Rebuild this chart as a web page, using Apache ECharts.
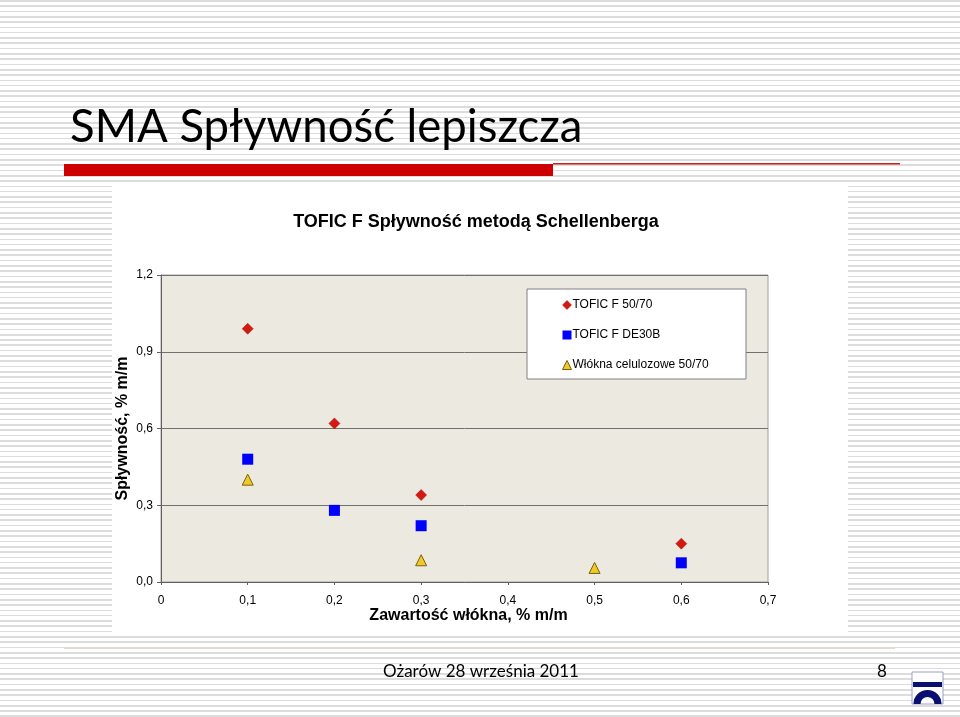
<!DOCTYPE html>
<html><head><meta charset="utf-8">
<script src="https://cdn.jsdelivr.net/npm/echarts@6/dist/echarts.min.js"></script>
<style>
html,body{margin:0;padding:0;width:960px;height:717px;overflow:hidden;
background:repeating-linear-gradient(to bottom,#dcdcdc 0px,#dcdcdc 1.6px,#ffffff 1.6px,#ffffff 5.3px);}
#c{width:960px;height:717px;}
</style></head><body><div id="c"></div>
<script>
const slideTitle = 'SMA Spływność lepiszcza';
const chartTitle = 'TOFIC F Spływność metodą Schellenberga';
const xAxisName = 'Zawartość włókna, % m/m';
const yAxisName = 'Spływność, % m/m';
const footerText = 'Ożarów 28 września 2011';
const pageNumber = '8';
const seriesNames = ['TOFIC F 50/70', 'TOFIC F DE30B', 'Włókna celulozowe 50/70'];
const tofic5070 = [[0.1, 0.99], [0.2, 0.62], [0.3, 0.34], [0.6, 0.15]];
const toficDE30B = [[0.1, 0.48], [0.2, 0.28], [0.3, 0.22], [0.6, 0.075]];
const wlokna = [[0.1, 0.40], [0.3, 0.085], [0.5, 0.055]];

const comma = v => String(v).replace('.', ',');
const chart = echarts.init(document.getElementById('c'), null, {renderer:'canvas'});
const AF = 'Liberation Sans, Arial, sans-serif';
chart.setOption({
  backgroundColor: 'transparent',
  animation: false,
  graphic: [
    {type:'rect', z:-10, shape:{x:112,y:185,width:736,height:447}, style:{fill:'#ffffff'}},
    {type:'text', left:70, top:104, style:{text:slideTitle, font:'45.5px Lato, sans-serif', fill:'#000'}},
    {type:'rect', shape:{x:64,y:164,width:489,height:12}, style:{fill:'#cc0000'}},
    {type:'rect', shape:{x:553,y:163,width:347,height:1.5}, style:{fill:'#cc2020'}},
    {type:'rect', shape:{x:64,y:647,width:831,height:2}, style:{fill:'#e8d8d4'}},
    {type:'text', x:481, y:672, style:{text:footerText, font:'17px Lato, sans-serif', fill:'#000', align:'center', verticalAlign:'middle'}},
    {type:'text', x:882, y:672, style:{text:pageNumber, font:'17px Lato, sans-serif', fill:'#000', align:'center', verticalAlign:'middle'}},
    {type:'rect', shape:{x:912,y:672,width:31,height:32}, style:{fill:'#ffffff', stroke:'#9aa0c0', lineWidth:1}},
    {type:'rect', shape:{x:913,y:682,width:29,height:5}, style:{fill:'#0a1070'}},
    {type:'sector', shape:{cx:927.5,cy:704,r:14,r0:7,startAngle:Math.PI,endAngle:2*Math.PI}, style:{fill:'#0a1070'}},
    {type:'text', x:476, y:222, style:{text:chartTitle, font:'bold 18px '+AF, fill:'#000', align:'center', verticalAlign:'middle'}},
    {type:'rect', z:5, shape:{x:527,y:289,width:219,height:90}, style:{fill:'#ffffff', stroke:'#808080', lineWidth:1}}
  ],
  grid: {left:161, top:275, width:607, height:307, show:true, backgroundColor:'#ECE9E0', borderColor:'#a0a0a0', borderWidth:1},
  legend: {
    z: 10, orient:'vertical', left:557, top:294, itemGap:18, itemWidth:9, itemHeight:9,
    textStyle:{fontFamily:AF, fontSize:12, color:'#000', padding:[0,0,0,-4]},
    data:[
      {name:seriesNames[0], icon:'diamond', itemStyle:{color:'#d41a10', borderColor:'#a01010', borderWidth:0.5}},
      {name:seriesNames[1], icon:'rect', itemStyle:{color:'#0000ff'}},
      {name:seriesNames[2], icon:'triangle', itemStyle:{color:'#f0c828', borderColor:'#7a6010', borderWidth:1}}
    ]
  },
  xAxis: {
    type:'value', min:0, max:0.7, interval:0.1,
    name:xAxisName, nameLocation:'middle', nameGap:26, nameMoveOverlap:false,
    nameTextStyle:{fontFamily:AF, fontSize:16, fontWeight:'bold', color:'#000', padding:[0,0,0,8]},
    axisLine:{show:true, lineStyle:{color:'#606060'}},
    axisTick:{show:true, length:3, lineStyle:{color:'#606060'}},
    axisLabel:{fontFamily:AF, fontSize:12, color:'#000', margin:13, formatter:v=>comma(Math.round(v*10)/10)},
    splitLine:{show:false}
  },
  yAxis: {
    type:'value', min:0, max:1.2, interval:0.3,
    name:yAxisName, nameLocation:'middle', nameGap:30, nameMoveOverlap:false,
    nameTextStyle:{fontFamily:AF, fontSize:16, fontWeight:'bold', color:'#000'},
    axisLine:{show:true, lineStyle:{color:'#606060'}},
    axisTick:{show:true, length:4, lineStyle:{color:'#606060'}},
    axisLabel:{fontFamily:AF, fontSize:12, color:'#000', margin:8, formatter:v=>comma(v.toFixed(1))},
    splitLine:{show:true, lineStyle:{color:'#707070', width:1}}
  },
  series: [
    {name:seriesNames[0], type:'scatter', symbol:'diamond', symbolSize:11, data:tofic5070,
     itemStyle:{color:'#d41a10', borderColor:'#a01010', borderWidth:0.5, opacity:1}},
    {name:seriesNames[1], type:'scatter', symbol:'rect', symbolSize:11, data:toficDE30B,
     itemStyle:{color:'#0000ff', opacity:1}},
    {name:seriesNames[2], type:'scatter', symbol:'triangle', symbolSize:11, data:wlokna,
     itemStyle:{color:'#f0c828', borderColor:'#7a6010', borderWidth:1, opacity:1}}
  ]
});
</script></body></html>
